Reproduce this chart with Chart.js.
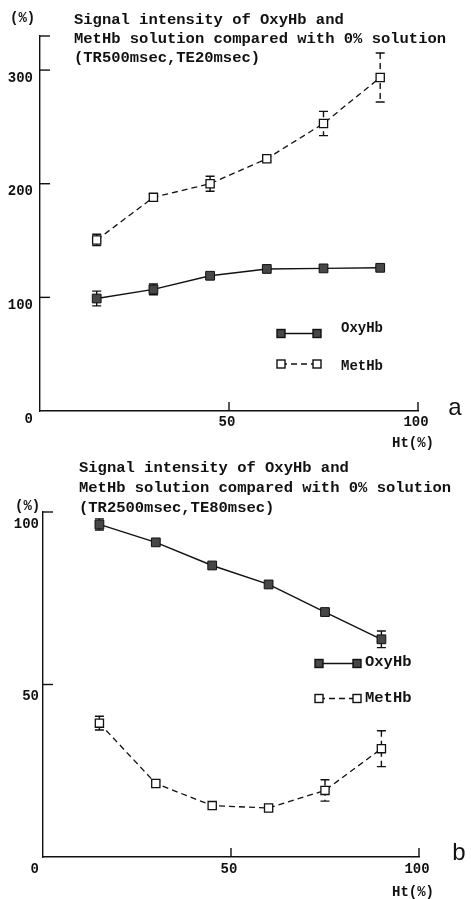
<!DOCTYPE html>
<html><head><meta charset="utf-8">
<script src="https://cdn.jsdelivr.net/npm/chart.js@4"></script>
<style>
html,body{margin:0;padding:0;background:#fff;width:471px;height:899px;overflow:hidden;}
canvas{position:absolute;left:0;}
#ca{top:0}
#cb{top:450px}
</style></head><body>
<canvas id="ca" width="471" height="450"></canvas>
<canvas id="cb" width="471" height="449"></canvas>
<script>
// ---- data ----
const htValues = [15, 30, 45, 60, 75, 90];
const xTickValues = [0, 50, 100];
const seriesNames = ['OxyHb', 'MetHb'];
// chart a (TR500msec, TE20msec)
const aOxy = [99, 107, 119, 125, 125.5, 126];
const aOxyErr = [6.5, 4.7, 2, 1.2, 1.2, 1];
const aMet = [150.5, 188, 200, 222, 253, 293.5];
const aMetErr = [5, 3, 6.6, 2, 10.7, 21.6];
const aYTicks = [0, 100, 200, 300];
const aYMax = 330;
const aTitle = ['Signal intensity of OxyHb and', 'MetHb solution compared with 0% solution', '(TR500msec,TE20msec)'];
// chart b (TR2500msec, TE80msec)
const bOxy = [96.4, 91.2, 84.5, 79, 71, 63.1];
const bOxyErr = [1.6, 0.6, 0, 0, 0, 2.4];
const bMet = [38.8, 21.3, 14.9, 14.2, 19.3, 31.4];
const bMetErr = [2, 0.6, 0, 0, 3.1, 5.2];
const bYTicks = [0, 50, 100];
const bYMax = 100;
const bTitle = ['Signal intensity of OxyHb and', 'MetHb solution compared with 0% solution', '(TR2500msec,TE80msec)'];

const MONO = '"Liberation Mono", "DejaVu Sans Mono", monospace';
const INK = '#111111';
const FILL_DARK = '#474747';

function pts(vals){ return htValues.map((x,i)=>({x, y: vals[i]})); }

const errorBars = {
  id: 'errorBars',
  beforeDatasetsDraw(chart){
    const ctx = chart.ctx, ys = chart.scales.y;
    chart.data.datasets.forEach((ds, di) => {
      const meta = chart.getDatasetMeta(di);
      ctx.save();
      ctx.strokeStyle = INK; ctx.lineWidth = 1.4;
      meta.data.forEach((el, i) => {
        const e = ds.errors[i]; if (!e) return;
        const v = ds.data[i].y;
        const y1 = ys.getPixelForValue(v + e), y2 = ys.getPixelForValue(v - e);
        const x = el.x;
        ctx.setLineDash(ds.borderDash || []);
        ctx.beginPath(); ctx.moveTo(x, y1); ctx.lineTo(x, y2); ctx.stroke();
        ctx.setLineDash([]);
        ctx.beginPath();
        ctx.moveTo(x-4.5, y1); ctx.lineTo(x+4.5, y1);
        ctx.moveTo(x-4.5, y2); ctx.lineTo(x+4.5, y2);
        ctx.stroke();
      });
      ctx.restore();
    });
  }
};

const decor = {
  id: 'decor',
  afterDraw(chart, args, o){
    const ctx = chart.ctx, xs = chart.scales.x, ys = chart.scales.y, ca = chart.chartArea;
    ctx.save();
    ctx.strokeStyle = INK; ctx.lineWidth = 1.4;
    // inward y tick marks
    ys.ticks.forEach(t => {
      const py = ys.getPixelForValue(t.value);
      if (t.value === 0) return;
      ctx.beginPath(); ctx.moveTo(ca.left, py); ctx.lineTo(ca.left + 10, py); ctx.stroke();
    });
    // upward x tick marks
    xs.ticks.forEach(t => {
      if (t.value === 0) return;
      const px = xs.getPixelForValue(t.value);
      ctx.beginPath(); ctx.moveTo(px, ca.bottom + o.xTickDown); ctx.lineTo(px, ca.bottom - 9); ctx.stroke();
    });
    // texts
    ctx.fillStyle = INK; ctx.textBaseline = 'middle';
    o.texts.forEach(t => {
      ctx.font = t.font; ctx.textAlign = t.align || 'left';
      ctx.fillText(t.t, t.x, t.y);
    });
    // legend
    chart.data.datasets.forEach((ds, di) => {
      const L = o.legend[di];
      ctx.strokeStyle = INK; ctx.lineWidth = 1.4;
      ctx.setLineDash(ds.borderDash || []);
      ctx.beginPath(); ctx.moveTo(L.x1, L.y); ctx.lineTo(L.x2, L.y); ctx.stroke();
      ctx.setLineDash([]);
      [L.x1, L.x2].forEach(x => {
        ctx.fillStyle = ds.pointBackgroundColor; ctx.strokeStyle = INK;
        ctx.fillRect(x-4, L.y-4, 8, 8); ctx.strokeRect(x-4, L.y-4, 8, 8);
      });
      ctx.fillStyle = INK; ctx.font = L.font; ctx.textAlign = 'left';
      ctx.fillText(ds.label, L.tx, L.ty);
    });
    ctx.restore();
  }
};

function makeChart(id, cfg){
  const H = cfg.H;
  return new Chart(document.getElementById(id), {
    type: 'line',
    data: { datasets: [
      { label: seriesNames[0], data: pts(cfg.oxy), errors: cfg.oxyErr,
        borderColor: INK, borderWidth: 1.4, pointStyle: 'rect', pointRadius: 6.2,
        pointBackgroundColor: FILL_DARK, pointBorderColor: '#111', pointBorderWidth: 1, tension: 0 },
      { label: seriesNames[1], data: pts(cfg.met), errors: cfg.metErr,
        borderColor: INK, borderWidth: 1.3, borderDash: [6, 4], pointStyle: 'rect', pointRadius: 5.8,
        pointBackgroundColor: '#ffffff', pointBorderColor: '#111', pointBorderWidth: 1.3, tension: 0 }
    ]},
    options: {
      responsive: false, animation: false, devicePixelRatio: 1,
      layout: { padding: { top: cfg.top, right: 471 - cfg.right, left: 0, bottom: 0 } },
      plugins: { legend: { display: false }, tooltip: { enabled: false }, title: { display: false },
        decor: { texts: cfg.texts, legend: cfg.legend, xTickDown: cfg.xTickDown } },
      scales: {
        x: { type: 'linear', min: 0, max: 100,
          afterFit(s){ s.height = H - cfg.bottom; },
          afterBuildTicks(s){ s.ticks = xTickValues.map(v => ({value: v})); },
          grid: { display: false, drawTicks: false },
          border: { display: true, color: INK, width: 1.4 },
          ticks: { padding: cfg.xPad, labelOffset: -2, color: INK, font: { family: MONO, size: 14, weight: 'bold' },
            callback: v => v === 0 ? '' : String(v), maxRotation: 0, autoSkip: false } },
        y: { type: 'linear', min: 0, max: cfg.yMax,
          afterFit(s){ s.width = cfg.left; },
          afterBuildTicks(s){ const t = cfg.yTicks.slice(); if (t[t.length-1] !== cfg.yMax) t.push(cfg.yMax); s.ticks = t.map(v => ({value: v})); },
          grid: { display: false, drawTicks: false },
          border: { display: true, color: INK, width: 1.4 },
          ticks: { padding: cfg.yPad, labelOffset: cfg.yLabelOffset, color: INK, font: { family: MONO, size: 14, weight: 'bold' },
            callback: v => cfg.yTicks.includes(v) ? String(v) : '', autoSkip: false } }
      }
    },
    plugins: [errorBars, decor]
  });
}

const titleFont = 'bold 15.5px ' + MONO;
const smallFont = 'bold 14px ' + MONO;
makeChart('ca', {
  H: 450, left: 40, right: 418, top: 36, bottom: 411, yMax: aYMax, yTicks: aYTicks,
  oxy: aOxy, oxyErr: aOxyErr, met: aMet, metErr: aMetErr,
  xPad: 3, yPad: 7, yLabelOffset: 8, xTickDown: 0,
  texts: [
    { t: '(%)', x: 10, y: 18, font: smallFont },
    { t: aTitle[0], x: 74, y: 20, font: titleFont },
    { t: aTitle[1], x: 74, y: 39, font: titleFont },
    { t: aTitle[2], x: 74, y: 58, font: titleFont },
    { t: 'Ht(%)', x: 413, y: 443, font: smallFont, align: 'center' },
    { t: 'a', x: 455, y: 408, font: '24px "Liberation Sans", Arial, sans-serif', align: 'center' }
  ],
  legend: [
    { x1: 281, x2: 317, y: 333.5, tx: 341, ty: 328, font: smallFont },
    { x1: 281, x2: 317, y: 364, tx: 341, ty: 366, font: smallFont }
  ]
});
makeChart('cb', {
  H: 449, left: 43, right: 419, top: 62, bottom: 407, yMax: bYMax, yTicks: bYTicks,
  oxy: bOxy, oxyErr: bOxyErr, met: bMet, metErr: bMetErr,
  xPad: 4, yPad: 4, yLabelOffset: 12, xTickDown: 0,
  texts: [
    { t: '(%)', x: 15, y: 56, font: smallFont },
    { t: bTitle[0], x: 79, y: 18.5, font: titleFont },
    { t: bTitle[1], x: 79, y: 38.5, font: titleFont },
    { t: bTitle[2], x: 79, y: 58.5, font: titleFont },
    { t: 'Ht(%)', x: 413, y: 442, font: smallFont, align: 'center' },
    { t: 'b', x: 459, y: 403, font: '24px "Liberation Sans", Arial, sans-serif', align: 'center' }
  ],
  legend: [
    { x1: 319, x2: 357, y: 213.5, tx: 365, ty: 212, font: 'bold 15.5px ' + MONO },
    { x1: 319, x2: 357, y: 248.5, tx: 365, ty: 248, font: 'bold 15.5px ' + MONO }
  ]
});
</script>
</body></html>
